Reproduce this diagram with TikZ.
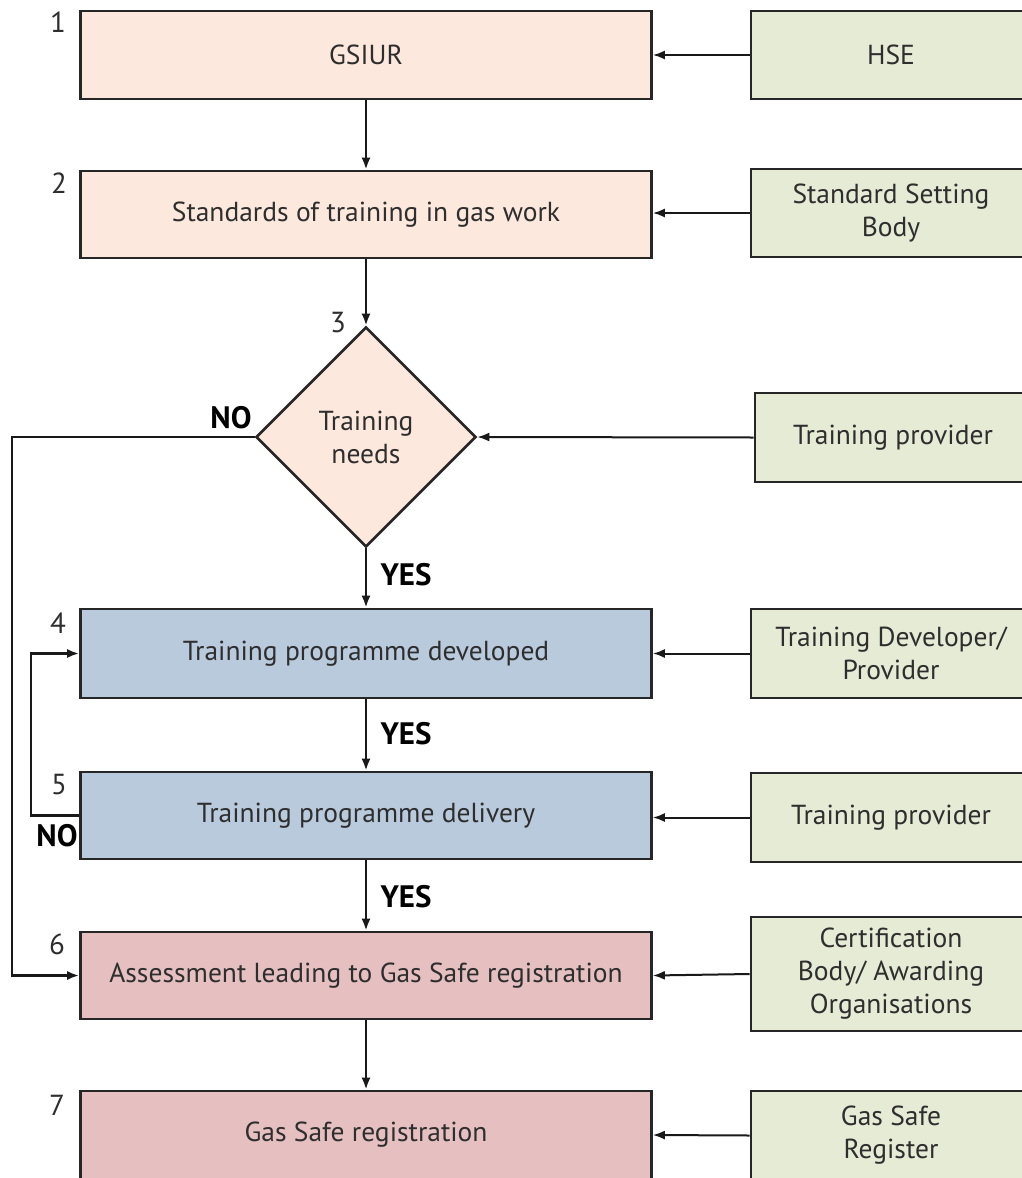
\documentclass[tikz,border=0pt]{standalone}
\usepackage{fontspec}
\setmainfont{PT Sans}
\usetikzlibrary{shapes.geometric,arrows.meta}
\definecolor{peach}{HTML}{FCE8DC}
\definecolor{bluef}{HTML}{B9CADD}
\definecolor{pinkf}{HTML}{E6C0C1}
\definecolor{greenf}{HTML}{E5EBD5}
\definecolor{txt}{HTML}{2E2E2E}
\begin{document}
\begin{tikzpicture}[x=1pt,y=-1pt,
  base/.style={draw=black!85, line width=2.6pt, inner sep=0pt, text=txt,
    font=\fontsize{27.5}{33}\selectfont, align=center},
  lbox/.style={base, minimum width=571pt},
  rbox/.style={base, fill=greenf, minimum width=280pt},
  diam/.style={base, fill=peach, diamond, minimum width=220pt, minimum height=220pt},
  num/.style={text=txt, font=\fontsize{29}{30}\selectfont, inner sep=0pt},
  yn/.style={text=black, font=\fontsize{31}{30}\selectfont\bfseries, inner sep=0pt},
  conn/.style={line width=2.4pt, draw=black!90, -{Latex[length=12pt,width=9pt]}},
  sconn/.style={line width=2pt, draw=black!90, -{Latex[length=12pt,width=9pt]}},
  line/.style={line width=2.4pt, draw=black!90}
]
\useasboundingbox (0,0) rectangle (1021,1178);
\fill[white] (0,0) rectangle (1021,1178);

% left column
\node[lbox, fill=peach, minimum height=88pt] (gsiur) at (366,55) {GSIUR};
\node[lbox, fill=peach, minimum height=87pt] (std) at (366,214.5) {Standards of training in gas work};
\node[diam] (need) at (366,437) {Training\\needs};
\node[lbox, fill=bluef, minimum height=89pt] (dev) at (366,653.5) {Training programme developed};
\node[lbox, fill=bluef, minimum height=87pt] (del) at (366,815.5) {Training programme delivery};
\node[lbox, fill=pinkf, minimum height=87pt] (ass) at (366,975.5) {Assessment leading to Gas Safe registration};
\node[lbox, fill=pinkf, minimum height=88pt] (reg) at (366,1135) {Gas Safe registration};

% right column
\node[rbox, minimum height=88pt] (hse) at (891,55) {HSE};
\node[rbox, minimum height=88pt] (ssb) at (891,213) {Standard Setting\\Body};
\node[rbox, minimum width=276pt, minimum height=89pt] (tp1) at (893,437.5) {Training provider};
\node[rbox, minimum height=89pt] (tdp) at (891,653.5) {Training Developer/\\Provider};
\node[rbox, minimum height=89pt] (tp2) at (891,817.5) {Training provider};
\node[rbox, minimum height=114pt] (cert) at (891,974) {Certification\\Body/ Awarding\\Organisations};
\node[rbox, minimum height=89pt] (gsr) at (891,1135.5) {Gas Safe\\Register};

% numbers
\node[num] (n1) at (58,22) {1};
\node[num] (n2) at (59,183) {2};
\node[num] (n3) at (338,323) {3};
\node[num] (n4) at (58,623) {4};
\node[num] (n5) at (59,785) {5};
\node[num] (n6) at (57,944) {6};
\node[num] (n7) at (57,1105) {7};

% yes/no labels
\node[yn] (yes1) at (406,575) {YES};
\node[yn] (yes2) at (406,734) {YES};
\node[yn] (yes3) at (406,897) {YES};
\node[yn] (no1) at (231,418) {NO};
\node[yn] (no2) at (57,836) {NO};

% vertical flow
\draw[conn] (gsiur.south) -- (std.north);
\draw[conn] (std.south) -- (need.north);
\draw[conn] (need.south) -- (dev.north);
\draw[conn] (dev.south) -- (del.north);
\draw[conn] (del.south) -- (ass.north);
\draw[conn] (ass.south) -- (reg.north);

% inputs from right
\draw[sconn] (hse.west) -- (gsiur.east);
\draw[sconn] (ssb.west) -- (ssb.west -| std.east);
\draw[sconn] (tp1.west) -- (need.east);
\draw[sconn] (tdp.west) -- (dev.east);
\draw[sconn] (tp2.west) -- (tp2.west -| del.east);
\draw[sconn] (cert.west) -- (ass.east);
\draw[sconn] (gsr.west) -- (reg.east);

% NO loops
\coordinate (c1) at (12,437);
\coordinate (c2) at (31,815.5);
\draw[conn] (need.west) -- (c1) |- (ass.west);
\draw[conn] (del.west) -- (c2) |- (dev.west);
\end{tikzpicture}
\end{document}
